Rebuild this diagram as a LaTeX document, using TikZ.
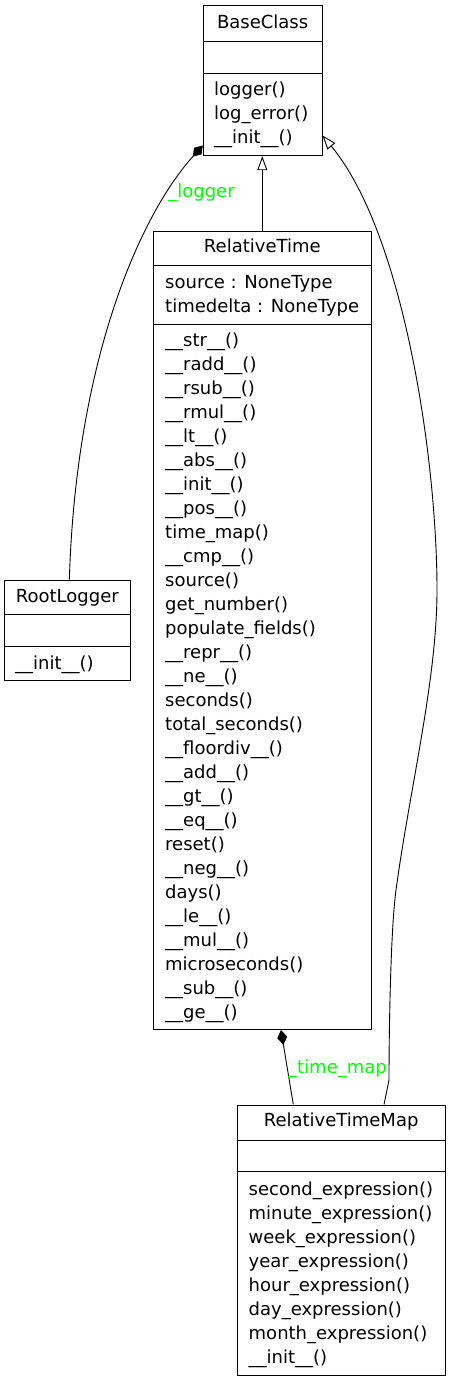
\documentclass[tikz,border=0pt]{standalone}
\usepackage{fontspec}
\setmainfont{DejaVu Sans}
\usepackage{tikz}
\usetikzlibrary{positioning, arrows.meta, calc}
\usepackage{xcolor}
\definecolor{labelgreen}{HTML}{00FF00}
\newcommand{\umlfont}{\fontsize{18}{24}\selectfont}

\begin{document}
\begin{tikzpicture}[x=1pt, y=-1pt,
  classbox/.style={draw, line width=1pt, inner sep=0pt},
  txt/.style={inner sep=0pt, font=\umlfont},
  members/.style={txt, align=left, anchor=north west},
  lbl/.style={txt, text=labelgreen, anchor=base},
  inherit/.style={line width=0.9pt, -{Triangle[open, length=14pt, width=10pt]}},
  compose/.style={line width=0.9pt, -{Diamond[length=15pt, width=10pt]}}]
\useasboundingbox (0,0) rectangle (451,1381);
% class boxes
\node[classbox, minimum width=118.7pt, minimum height=149.7pt] (base) at (262.65,80.85) {};
\node[classbox, minimum width=218pt, minimum height=798.5pt] (reltime) at (262.3,630.25) {};
\node[classbox, minimum width=126.7pt, minimum height=100pt] (rootlog) at (67.35,630) {};
\node[classbox, minimum width=207.7pt, minimum height=270pt] (reltimemap) at (341.15,1240) {};
% compartments
\draw[line width=1pt] (base.west |- 0,41.7) -- (base.east |- 0,41.7);
\draw[line width=1pt] (base.west |- 0,73.3) -- (base.east |- 0,73.3);
\draw[line width=1pt] (reltime.west |- 0,265.7) -- (reltime.east |- 0,265.7);
\draw[line width=1pt] (reltime.west |- 0,324) -- (reltime.east |- 0,324);
\draw[line width=1pt] (rootlog.west |- 0,614) -- (rootlog.east |- 0,614);
\draw[line width=1pt] (rootlog.west |- 0,646.3) -- (rootlog.east |- 0,646.3);
\draw[line width=1pt] (reltimemap.west |- 0,1140) -- (reltimemap.east |- 0,1140);
\draw[line width=1pt] (reltimemap.west |- 0,1171.7) -- (reltimemap.east |- 0,1171.7);
% names and members
\node[txt, anchor=base] (base-name) at (262.65,28.3) {BaseClass};
\node[members] (base-ops) at (214,81.5) {logger()\\log\_error()\\\_\_init\_\_()};
\node[txt, anchor=base] (reltime-name) at (262.3,252.7) {RelativeTime};
\node[members] (reltime-attr) at (165,275.2) {source : NoneType\\timedelta : NoneType};
\node[members] (reltime-ops) at (165,333) {\_\_str\_\_()\\\_\_radd\_\_()\\\_\_rsub\_\_()\\\_\_rmul\_\_()\\\_\_lt\_\_()\\\_\_abs\_\_()\\\_\_init\_\_()\\\_\_pos\_\_()\\time\_map()\\\_\_cmp\_\_()\\source()\\get\_number()\\populate\_fields()\\\_\_repr\_\_()\\\_\_ne\_\_()\\seconds()\\total\_seconds()\\\_\_floordiv\_\_()\\\_\_add\_\_()\\\_\_gt\_\_()\\\_\_eq\_\_()\\reset()\\\_\_neg\_\_()\\days()\\\_\_le\_\_()\\\_\_mul\_\_()\\microseconds()\\\_\_sub\_\_()\\\_\_ge\_\_()};
\node[txt, anchor=base] (rootlog-name) at (67.35,602.3) {RootLogger};
\node[members] (rootlog-ops) at (15,655.3) {\_\_init\_\_()};
\node[txt, anchor=base] (reltimemap-name) at (341.15,1126.7) {RelativeTimeMap};
\node[members] (reltimemap-ops) at (248.5,1181.3) {second\_expression()\\minute\_expression()\\week\_expression()\\year\_expression()\\hour\_expression()\\day\_expression()\\month\_expression()\\\_\_init\_\_()};
% relations
\draw[inherit] (reltime.north) -- (reltime.north |- base.south);
\draw[inherit] ([xshift=42.85pt]reltimemap.north) -- (389,1080)
  .. controls (389,1030) and (390.6,930) .. (396,890)
  .. controls (409.5,790) and (437,680) .. (437,590)
  .. controls (437,460) and (404,234) .. ([yshift=20.7pt]base.south east);
\draw[compose] ([xshift=2pt]rootlog.north) .. controls (76,360) and (140,215) .. ([yshift=10.7pt]base.south west);
\draw[compose] ([xshift=-47.85pt]reltimemap.north) -- ([xshift=18.7pt]reltime.south);
\node[lbl] (logger-lbl) at (201.5,197.7) {\_logger};
\node[lbl] (timemap-lbl) at (337.5,1073) {\_time\_map};
\end{tikzpicture}
\end{document}
